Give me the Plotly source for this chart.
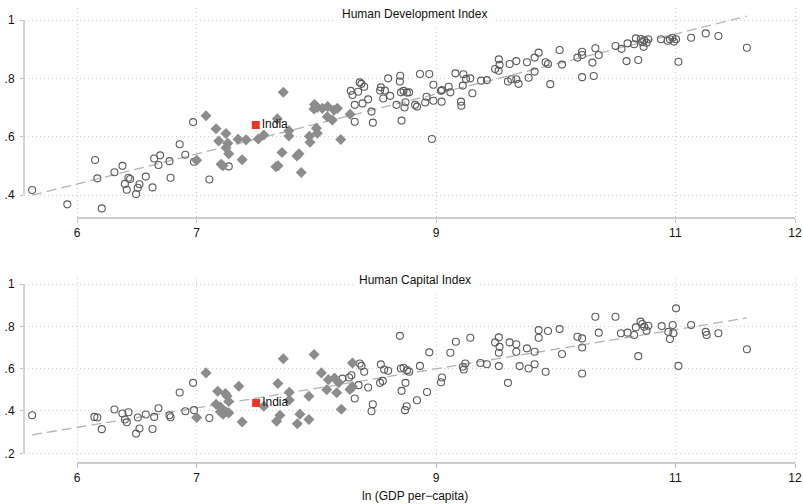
import numpy as np
import plotly.graph_objects as go

# ---------------- Human Development Index panel ----------------
hdi_other_x = [5.625, 5.919, 6.207, 6.151, 6.170, 6.313, 6.380, 6.400, 6.416, 6.430,
               6.444, 6.494, 6.508, 6.522, 6.575, 6.631, 6.645, 6.681, 6.695, 6.773,
               6.782, 6.858, 6.905, 6.970, 6.978, 7.106, 7.268,
               8.288, 8.302, 8.349, 8.363, 8.377, 8.400, 8.321, 8.386, 8.433, 8.461,
               8.321, 8.472, 8.539, 8.533, 8.573, 8.600, 8.617, 8.559, 8.701, 8.698,
               8.707, 8.729, 8.757, 8.776, 8.670, 8.737, 8.745, 8.712, 8.825, 8.841,
               8.866, 8.944, 8.978, 8.921, 8.910, 8.978, 8.966, 9.042, 9.050, 9.106,
               9.120, 9.047, 9.162, 9.229, 9.251, 9.287, 9.224, 9.209, 9.212, 9.304,
               9.377, 9.425, 9.494, 9.525, 9.531, 9.523, 9.601, 9.615, 9.629, 9.671,
               9.671, 9.690, 9.760, 9.774, 9.824, 9.858, 9.824, 9.916, 9.936, 9.955,
               10.033, 10.053, 10.182, 10.221, 10.221, 10.221, 10.307, 10.332, 10.360, 10.318,
               10.500, 10.550, 10.601, 10.592, 10.656, 10.670, 10.712, 10.724, 10.740, 10.774,
               10.760, 10.735, 10.690, 10.880, 10.936, 10.955, 10.975, 10.988, 11.006, 11.026,
               11.132, 11.254, 11.360, 11.598]
hdi_other_y = [0.417, 0.368, 0.354, 0.520, 0.457, 0.478, 0.500, 0.438, 0.418, 0.459,
               0.455, 0.403, 0.425, 0.437, 0.463, 0.426, 0.525, 0.503, 0.536, 0.516,
               0.459, 0.574, 0.538, 0.650, 0.514, 0.453, 0.498,
               0.757, 0.743, 0.754, 0.786, 0.781, 0.771, 0.709, 0.714, 0.728, 0.686,
               0.651, 0.648, 0.769, 0.758, 0.758, 0.800, 0.740, 0.731, 0.809, 0.789,
               0.752, 0.757, 0.751, 0.752, 0.709, 0.700, 0.718, 0.655, 0.709, 0.703,
               0.815, 0.815, 0.778, 0.737, 0.717, 0.723, 0.592, 0.757, 0.760, 0.771,
               0.752, 0.720, 0.817, 0.814, 0.798, 0.800, 0.775, 0.720, 0.706, 0.749,
               0.792, 0.794, 0.832, 0.865, 0.846, 0.826, 0.789, 0.849, 0.797, 0.859,
               0.797, 0.781, 0.855, 0.802, 0.871, 0.888, 0.823, 0.855, 0.849, 0.780,
               0.897, 0.847, 0.871, 0.891, 0.880, 0.804, 0.854, 0.903, 0.880, 0.808,
               0.911, 0.901, 0.920, 0.859, 0.917, 0.937, 0.935, 0.924, 0.931, 0.934,
               0.922, 0.908, 0.863, 0.934, 0.929, 0.934, 0.939, 0.926, 0.934, 0.857,
               0.939, 0.954, 0.945, 0.905]

hdi_peer_x = [7.078, 7.000, 7.162, 7.184, 7.204, 7.220, 7.245, 7.245, 7.260, 7.268,
              7.346, 7.413, 7.380, 7.515, 7.561, 7.724, 7.674, 7.713, 7.662, 7.680,
              7.771, 7.771, 7.838, 7.855, 7.874, 7.985, 7.980, 8.008, 8.050, 8.095,
              8.148, 8.176, 8.092, 8.134, 8.000, 8.008, 7.942, 7.947, 8.204, 8.282]
hdi_peer_y = [0.672, 0.519, 0.627, 0.585, 0.505, 0.500, 0.611, 0.562, 0.577, 0.541,
              0.591, 0.589, 0.521, 0.592, 0.606, 0.752, 0.661, 0.546, 0.497, 0.500,
              0.602, 0.620, 0.534, 0.541, 0.477, 0.710, 0.695, 0.700, 0.697, 0.703,
              0.691, 0.697, 0.668, 0.657, 0.629, 0.612, 0.601, 0.581, 0.590, 0.677]

india_x_hdi = [7.494]
india_hdi = [0.640]

# ---------------- Human Capital Index panel ----------------
hci_other_x = [5.625, 6.145, 6.170, 6.207, 6.313, 6.380, 6.400, 6.416, 6.430, 6.494,
               6.508, 6.522, 6.575, 6.631, 6.645, 6.681, 6.773, 6.782, 6.858, 6.905,
               6.970, 6.978, 7.106,
               8.218, 8.274, 8.293, 8.363, 8.377, 8.400, 8.353, 8.433, 8.321, 8.472,
               8.461, 8.539, 8.567, 8.600, 8.533, 8.555, 8.698, 8.707, 8.729, 8.757,
               8.776, 8.745, 8.712, 8.755, 8.741, 8.866, 8.944, 8.841, 8.925, 9.050,
               9.042, 9.120, 9.166, 9.224, 9.232, 9.245, 9.287, 9.371, 9.425, 9.494,
               9.525, 9.531, 9.525, 9.525, 9.601, 9.615, 9.671, 9.671, 9.699, 9.760,
               9.774, 9.824, 9.824, 9.858, 9.858, 9.936, 10.033, 9.916, 10.053, 10.182,
               10.221, 10.221, 10.221, 10.332, 10.360, 10.500, 10.545, 10.601, 10.656, 10.670,
               10.690, 10.709, 10.724, 10.740, 10.760, 10.774, 10.886, 10.941, 10.955, 10.978,
               10.984, 11.006, 11.026, 11.132, 11.254, 11.262, 11.360, 11.598]
hci_other_y = [0.380, 0.372, 0.369, 0.314, 0.407, 0.388, 0.360, 0.347, 0.394, 0.293,
               0.369, 0.317, 0.383, 0.315, 0.372, 0.413, 0.380, 0.370, 0.487, 0.399,
               0.533, 0.404, 0.367,
               0.553, 0.558, 0.569, 0.624, 0.613, 0.585, 0.522, 0.511, 0.459, 0.432,
               0.399, 0.620, 0.596, 0.590, 0.533, 0.542, 0.755, 0.601, 0.604, 0.593,
               0.585, 0.533, 0.495, 0.422, 0.404, 0.613, 0.677, 0.451, 0.490, 0.558,
               0.536, 0.675, 0.727, 0.609, 0.596, 0.624, 0.746, 0.627, 0.621, 0.724,
               0.748, 0.703, 0.675, 0.612, 0.533, 0.724, 0.715, 0.680, 0.612, 0.696,
               0.601, 0.680, 0.621, 0.782, 0.746, 0.778, 0.787, 0.585, 0.669, 0.751,
               0.743, 0.700, 0.577, 0.845, 0.770, 0.845, 0.767, 0.770, 0.759, 0.795,
               0.659, 0.822, 0.811, 0.798, 0.779, 0.803, 0.801, 0.774, 0.740, 0.806,
               0.767, 0.885, 0.613, 0.806, 0.774, 0.759, 0.767, 0.692]

hci_peer_x = [7.078, 7.000, 7.176, 7.162, 7.198, 7.198, 7.220, 7.240, 7.254, 7.268,
              7.268, 7.245, 7.352, 7.380, 7.561, 7.724, 7.679, 7.696, 7.668, 7.774,
              7.774, 7.841, 7.863, 7.938, 7.938, 7.981, 8.042, 8.100, 8.152, 8.187,
              8.087, 8.170, 8.209, 8.302, 8.281, 8.302]
hci_peer_y = [0.580, 0.369, 0.493, 0.432, 0.419, 0.396, 0.385, 0.483, 0.471, 0.445,
              0.391, 0.396, 0.517, 0.348, 0.422, 0.647, 0.530, 0.380, 0.351, 0.488,
              0.452, 0.340, 0.385, 0.470, 0.360, 0.667, 0.580, 0.548, 0.556, 0.534,
              0.500, 0.486, 0.408, 0.627, 0.502, 0.514]

india_x_hci = [7.497]
india_hci = [0.438]

x_ticks = [6, 7, 9, 11, 12]
hdi_ticks = [0.4, 0.6, 0.8, 1]
hci_ticks = [0.2, 0.4, 0.6, 0.8, 1]


def tick_text(vals):
    return ["1" if v == 1 else ("%.1f" % v).lstrip("0") for v in vals]


FONT = "Liberation Sans, Arial, Helvetica, sans-serif"
CIRCLE_EDGE = "#5b5b5b"
PEER_GRAY = "#8c8c8c"
INDIA_RED = "#e2382a"
FIT_GRAY = "#b3b3b3"
AXIS_GRAY = "#bdbdbd"
GRID_GRAY = "#cfcfcf"

fig = go.Figure()


def add_panel(xa, ya, ox, oy, px, py, ix, iy):
    all_x = np.array(ox + px + ix)
    all_y = np.array(oy + py + iy)
    slope, icpt = np.polyfit(all_x, all_y, 1)
    fx = np.array([all_x.min(), all_x.max()])
    fig.add_trace(go.Scatter(
        x=fx, y=icpt + slope * fx, mode="lines", xaxis=xa, yaxis=ya,
        line=dict(color=FIT_GRAY, width=1.3, dash="10px,5px"),
        hoverinfo="skip", showlegend=False))
    fig.add_trace(go.Scatter(
        x=ox, y=oy, mode="markers", xaxis=xa, yaxis=ya, showlegend=False,
        marker=dict(symbol="circle-open", size=7, color=CIRCLE_EDGE,
                    line=dict(width=1.1, color=CIRCLE_EDGE))))
    fig.add_trace(go.Scatter(
        x=px, y=py, mode="markers", xaxis=xa, yaxis=ya, showlegend=False,
        marker=dict(symbol="diamond", size=8.5, color=PEER_GRAY,
                    line=dict(width=0))))
    fig.add_trace(go.Scatter(
        x=ix, y=iy, mode="markers+text", xaxis=xa, yaxis=ya, showlegend=False,
        text=["India"], textposition="middle right",
        textfont=dict(family=FONT, size=12, color="#111111"),
        marker=dict(symbol="square", size=8, color=INDIA_RED,
                    line=dict(width=0))))


add_panel("x", "y", hdi_other_x, hdi_other_y, hdi_peer_x, hdi_peer_y,
          india_x_hdi, india_hdi)
add_panel("x2", "y2", hci_other_x, hci_other_y, hci_peer_x, hci_peer_y,
          india_x_hci, india_hci)

W, H = 803, 504
x_dom = [24 / W, 800 / W]
x_rng = [5.5571, 12.0418]

common_x = dict(domain=x_dom, range=x_rng, tickvals=x_ticks,
                ticktext=[str(v) for v in x_ticks], ticks="outside", ticklen=4,
                tickwidth=1, tickcolor=AXIS_GRAY, showline=False, zeroline=False,
                showgrid=True, gridcolor=GRID_GRAY, griddash="1px,3px", gridwidth=1,
                tickfont=dict(family=FONT, size=12, color="#111111"),
                automargin=False, fixedrange=True)
common_y = dict(ticks="outside", ticklen=3, tickwidth=1, tickcolor=AXIS_GRAY,
                showline=False, zeroline=False, showgrid=True,
                gridcolor=GRID_GRAY, griddash="1px,3px", gridwidth=1,
                tickfont=dict(family=FONT, size=12, color="#111111"),
                ticklabelstandoff=3, automargin=False, fixedrange=True)

fig.update_layout(
    width=W, height=H,
    margin=dict(l=0, r=0, t=0, b=0),
    paper_bgcolor="white", plot_bgcolor="white",
    font=dict(family=FONT, size=12, color="#111111"),
    xaxis=dict(anchor="y", **common_x),
    yaxis=dict(anchor="x", domain=[1 - 218 / H, 1 - 8 / H], range=[0.32114, 1.04114],
               tickvals=hdi_ticks, ticktext=tick_text(hdi_ticks), **common_y),
    xaxis2=dict(anchor="y2", **common_x),
    yaxis2=dict(anchor="x2", domain=[1 - 463 / H, 1 - 278 / H], range=[0.15416, 1.02836],
                tickvals=hci_ticks, ticktext=tick_text(hci_ticks), **common_y),
    shapes=[
        # axis lines spanning only the labelled range
        dict(type="line", xref="x", yref="y domain", x0=6, x1=12, y0=0, y1=0,
             line=dict(color=AXIS_GRAY, width=1.3)),
        dict(type="line", xref="x domain", yref="y", x0=0, x1=0, y0=0.4, y1=1,
             line=dict(color=AXIS_GRAY, width=1.3)),
        dict(type="line", xref="x2", yref="y2 domain", x0=6, x1=12, y0=0, y1=0,
             line=dict(color=AXIS_GRAY, width=1.3)),
        dict(type="line", xref="x2 domain", yref="y2", x0=0, x1=0, y0=0.2, y1=1,
             line=dict(color=AXIS_GRAY, width=1.3)),
    ],
    annotations=[
        dict(text="Human Development Index", xref="paper", yref="paper",
             x=415 / W, y=1 - 14 / H, yanchor="middle", xanchor="center",
             showarrow=False, bgcolor="white", borderpad=5,
             font=dict(family=FONT, size=12, color="#111111")),
        dict(text="Human Capital Index", xref="paper", yref="paper",
             x=415 / W, y=1 - 280 / H, yanchor="middle", xanchor="center",
             showarrow=False, bgcolor="white", borderpad=5,
             font=dict(family=FONT, size=12, color="#111111")),
        dict(text="ln (GDP per\u2212capita)", xref="paper", yref="paper",
             x=415 / W, y=1 - 496 / H, yanchor="middle", xanchor="center",
             showarrow=False,
             font=dict(family=FONT, size=12, color="#111111")),
    ],
)

fig.write_html("out.html")
